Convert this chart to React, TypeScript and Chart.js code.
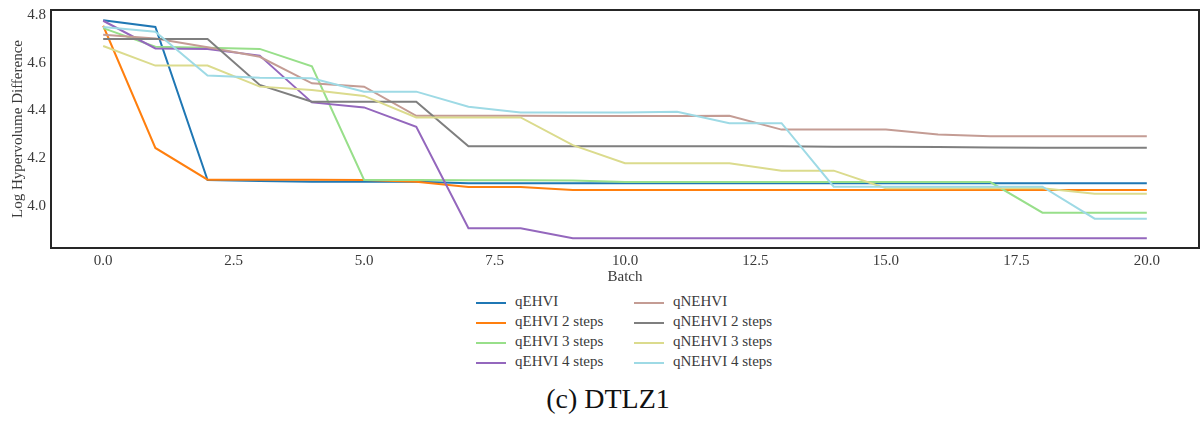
import React, { useEffect, useRef } from "react";
import { Chart, registerables } from "chart.js";

Chart.register(...registerables);

// ---- data ----
const batches = [0, 1, 2, 3, 4, 5, 6, 7, 8, 9, 10, 11, 12, 13, 14, 15, 16, 17, 18, 19, 20];

const qEHVI = [4.778, 4.75, 4.109, 4.105, 4.102, 4.102, 4.102, 4.095, 4.095, 4.095, 4.095, 4.095, 4.095, 4.095, 4.095, 4.095, 4.095, 4.095, 4.095, 4.095, 4.095];
const qEHVI2 = [4.755, 4.243, 4.11, 4.11, 4.11, 4.109, 4.102, 4.08, 4.08, 4.067, 4.067, 4.067, 4.067, 4.067, 4.067, 4.067, 4.067, 4.067, 4.067, 4.067, 4.067];
const qEHVI3 = [4.745, 4.667, 4.663, 4.658, 4.585, 4.109, 4.109, 4.108, 4.108, 4.107, 4.1, 4.1, 4.1, 4.1, 4.1, 4.1, 4.1, 4.1, 3.972, 3.972, 3.972];
const qEHVI4 = [4.776, 4.66, 4.658, 4.63, 4.434, 4.413, 4.332, 3.907, 3.907, 3.865, 3.865, 3.865, 3.865, 3.865, 3.865, 3.865, 3.865, 3.865, 3.865, 3.865, 3.865];
const qNEHVI = [4.717, 4.702, 4.665, 4.625, 4.514, 4.5, 4.378, 4.378, 4.378, 4.377, 4.377, 4.377, 4.378, 4.32, 4.32, 4.32, 4.299, 4.292, 4.292, 4.292, 4.292];
const qNEHVI2 = [4.7, 4.7, 4.7, 4.507, 4.437, 4.437, 4.437, 4.25, 4.25, 4.25, 4.25, 4.25, 4.25, 4.25, 4.248, 4.248, 4.247, 4.245, 4.244, 4.244, 4.244];
const qNEHVI3 = [4.67, 4.588, 4.588, 4.5, 4.486, 4.461, 4.371, 4.371, 4.371, 4.255, 4.179, 4.179, 4.179, 4.148, 4.148, 4.074, 4.074, 4.074, 4.074, 4.051, 4.051];
const qNEHVI4 = [4.75, 4.73, 4.547, 4.537, 4.535, 4.479, 4.479, 4.416, 4.392, 4.392, 4.392, 4.395, 4.347, 4.347, 4.081, 4.081, 4.081, 4.081, 4.081, 3.947, 3.947];

const seriesValues = [qEHVI, qEHVI2, qEHVI3, qEHVI4, qNEHVI, qNEHVI2, qNEHVI3, qNEHVI4];
const seriesLabels = [
  "qEHVI",
  "qEHVI 2 steps",
  "qEHVI 3 steps",
  "qEHVI 4 steps",
  "qNEHVI",
  "qNEHVI 2 steps",
  "qNEHVI 3 steps",
  "qNEHVI 4 steps",
];
const seriesColors = ["#1f77b4", "#ff7f0e", "#98df8a", "#9467bd", "#c49c94", "#7f7f7f", "#dbdb8d", "#9edae5"];

const xTickValues = [0, 2.5, 5, 7.5, 10, 12.5, 15, 17.5, 20];
const yTickValues = [4.0, 4.2, 4.4, 4.6, 4.8];
const xTitle = "Batch";
const yTitle = "Log Hypervolume Difference";
const caption = "(c) DTLZ1";

const FONT_FAMILY = "'Liberation Serif', 'Times New Roman', serif";
const TEXT_COLOR = "#3a3a3a";

const framePlugin = {
  id: "frame",
  afterDatasetsDraw(chart: any) {
    const { ctx, chartArea: a } = chart;
    ctx.save();
    ctx.strokeStyle = "#262626";
    ctx.lineWidth = 2;
    ctx.strokeRect(a.left, a.top, a.right - a.left, a.bottom - a.top);
    ctx.restore();
  },
};

export default function App() {
  const canvasRef = useRef<HTMLCanvasElement | null>(null);

  useEffect(() => {
    if (!canvasRef.current) return;
    const font = { family: FONT_FAMILY, size: 15 };
    const chart = new Chart(canvasRef.current, {
      type: "line",
      data: {
        labels: batches,
        datasets: seriesValues.map((vals, i) => ({
          label: seriesLabels[i],
          data: vals.map((v, j) => ({ x: batches[j], y: v })),
          borderColor: seriesColors[i],
          backgroundColor: seriesColors[i],
          borderWidth: 2,
          pointRadius: 0,
          tension: 0,
          fill: false,
          order: seriesValues.length - i,
        })),
      },
      options: {
        animation: false,
        responsive: true,
        maintainAspectRatio: false,
        layout: { padding: { top: 10, right: 1, left: 0, bottom: 0 } },
        plugins: {
          legend: { display: false },
          tooltip: { enabled: false },
        },
        scales: {
          x: {
            type: "linear",
            min: -1,
            max: 21,
            grid: { display: false, drawTicks: false },
            border: { display: false },
            afterBuildTicks: (s: any) => {
              s.ticks = xTickValues.map((v) => ({ value: v }));
            },
            afterFit: (s: any) => {
              s.height = 42;
              s.paddingLeft = 0;
              s.paddingRight = 0;
            },
            ticks: {
              autoSkip: false,
              maxRotation: 0,
              padding: 4,
              color: TEXT_COLOR,
              font,
              callback: (v: any) => Number(v).toFixed(1),
            },
            title: {
              display: true,
              text: xTitle,
              color: TEXT_COLOR,
              font,
              padding: { top: 0, bottom: 4 },
            },
          },
          y: {
            type: "linear",
            min: 3.824,
            max: 4.821,
            grid: { display: false, drawTicks: false },
            border: { display: false },
            afterBuildTicks: (s: any) => {
              s.ticks = yTickValues.map((v) => ({ value: v }));
            },
            afterFit: (s: any) => {
              s.width = 51;
              s.paddingTop = 0;
              s.paddingBottom = 0;
            },
            ticks: {
              autoSkip: false,
              padding: 5,
              color: TEXT_COLOR,
              font,
              callback: (v: any) => Number(v).toFixed(1),
            },
            title: {
              display: true,
              text: yTitle,
              color: TEXT_COLOR,
              font,
              padding: { top: 9, bottom: 0 },
            },
          },
        },
      },
      plugins: [framePlugin],
    } as any);
    return () => chart.destroy();
  }, []);

  const legendCols = [
    { left: 476, items: [0, 1, 2, 3] },
    { left: 634, items: [4, 5, 6, 7] },
  ];

  return (
    <div
      style={{
        position: "absolute",
        left: 0,
        top: 0,
        width: 1200,
        height: 425,
        background: "#ffffff",
        fontFamily: FONT_FAMILY,
      }}
    >
      <div style={{ position: "absolute", left: 0, top: 0, width: 1200, height: 290 }}>
        <canvas ref={canvasRef} />
      </div>
      {legendCols.map((col) =>
        col.items.map((idx, row) => (
          <React.Fragment key={idx}>
            <div
              style={{
                position: "absolute",
                left: col.left,
                top: 302 + row * 20,
                width: 30,
                height: 2,
                background: seriesColors[idx],
              }}
            />
            <div
              style={{
                position: "absolute",
                left: col.left + 39,
                top: 291 + row * 20,
                lineHeight: "20px",
                fontSize: 15,
                color: TEXT_COLOR,
                whiteSpace: "nowrap",
              }}
            >
              {seriesLabels[idx]}
            </div>
          </React.Fragment>
        ))
      )}
      <div
        style={{
          position: "absolute",
          left: 608,
          top: 384,
          transform: "translateX(-50%)",
          fontSize: 28,
          lineHeight: "30px",
          color: "#111",
          whiteSpace: "nowrap",
        }}
      >
        {caption}
      </div>
    </div>
  );
}
